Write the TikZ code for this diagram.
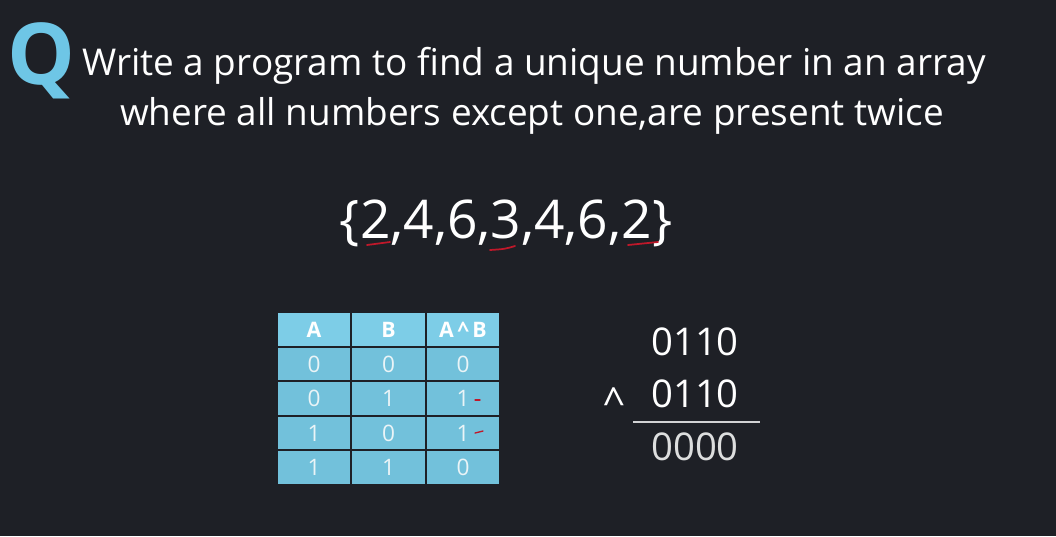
\documentclass[tikz,border=0pt]{standalone}
\usepackage{fontspec}
\setmainfont{Open Sans}
\usetikzlibrary{positioning}
\usepackage{xcolor}
\definecolor{board}{HTML}{1E2026}
\definecolor{qblue}{HTML}{6EC6E6}
\definecolor{headblue}{HTML}{7DCDE7}
\definecolor{cellblue}{HTML}{72C1DB}
\definecolor{digitwhite}{HTML}{EAF4F7}
\definecolor{inkred}{HTML}{C0182A}

\tikzset{
  cell/.style={fill=cellblue, draw=board, line width=1.4pt, minimum width=55.5pt,
    minimum height=25.9pt, inner sep=0pt, text=digitwhite,
    font=\fontsize{17}{17}\selectfont},
  headcell/.style={cell, fill=headblue, text=white,
    font=\fontsize{16}{16}\selectfont\bfseries},
  line/.style={white, anchor=base, font=\fontsize{27.7}{27.7}\selectfont},
  sum/.style={white, anchor=base, font=\fontsize{28.7}{28.7}\selectfont},
  tick/.style={inkred, line width=1.3pt, line cap=round}
}

\begin{document}
\begin{tikzpicture}[x=0.75pt, y=-0.75pt]
        \fill[board] (0, 0) rectangle (1056, 536);

        % question
        \node[qblue, font=\fontsize{64}{64}\selectfont\bfseries] (q) at (41, 61) {Q};
        \node[line] (line1) at (534, 75) {Write a program to find a unique number in an array};
        \node[line] (line2) at (532, 125) {where all numbers except one,are present twice};

        % the array
        \node[white, anchor=base, font=\fontsize{40}{40}\selectfont] (set) at (506, 238) {\{2,4,6,3,4,6,2\}};
        \draw[tick] (367, 245) -- (390, 242);
        \draw[tick] (490, 250) .. controls (505, 249) .. (515, 246);
        \draw[tick] (628, 245) -- (658, 242);

        % truth table
        \node[headcell] (c-0-1) at (314, 329.5) {A};
        \node[headcell] (c-0-2) at (388.5, 329.5) {B};
        \node[headcell] (c-0-3) at (463, 329.5) {A\,\textasciicircum\,B};
        \foreach \r/\y/\a/\b/\c in {1/364/0/0/0, 2/398.5/0/1/1, 3/433/1/0/1, 4/467.5/1/1/0}{
            \node[cell] (c-\r-1) at (314, \y) {\a};
            \node[cell] (c-\r-2) at (388.5, \y) {\b};
            \node[cell] (c-\r-3) at (463, \y) {\c};
        }
        \draw[tick, line width=1pt] (475, 400) -- (480, 400);
        \draw[tick, line width=1pt] (475, 433) -- (483, 431);

        % xor sum
        \node[sum] (top) at (695, 355) {0110};
        \node[sum] (bottom) at (695, 407) {0110};
        \node[white, font=\fontsize{30}{30}\selectfont] (xor) at (614, 402) {\textasciicircum};
        \coordinate (rule-l) at (633, 422);
        \coordinate (rule-r) at (760, 422);
        \draw[white!80!board, line width=1pt] (rule-l) -- (rule-r);
        \node[sum, text=white!85!board] (result) at (695, 460) {0000};
\end{tikzpicture}
\end{document}
